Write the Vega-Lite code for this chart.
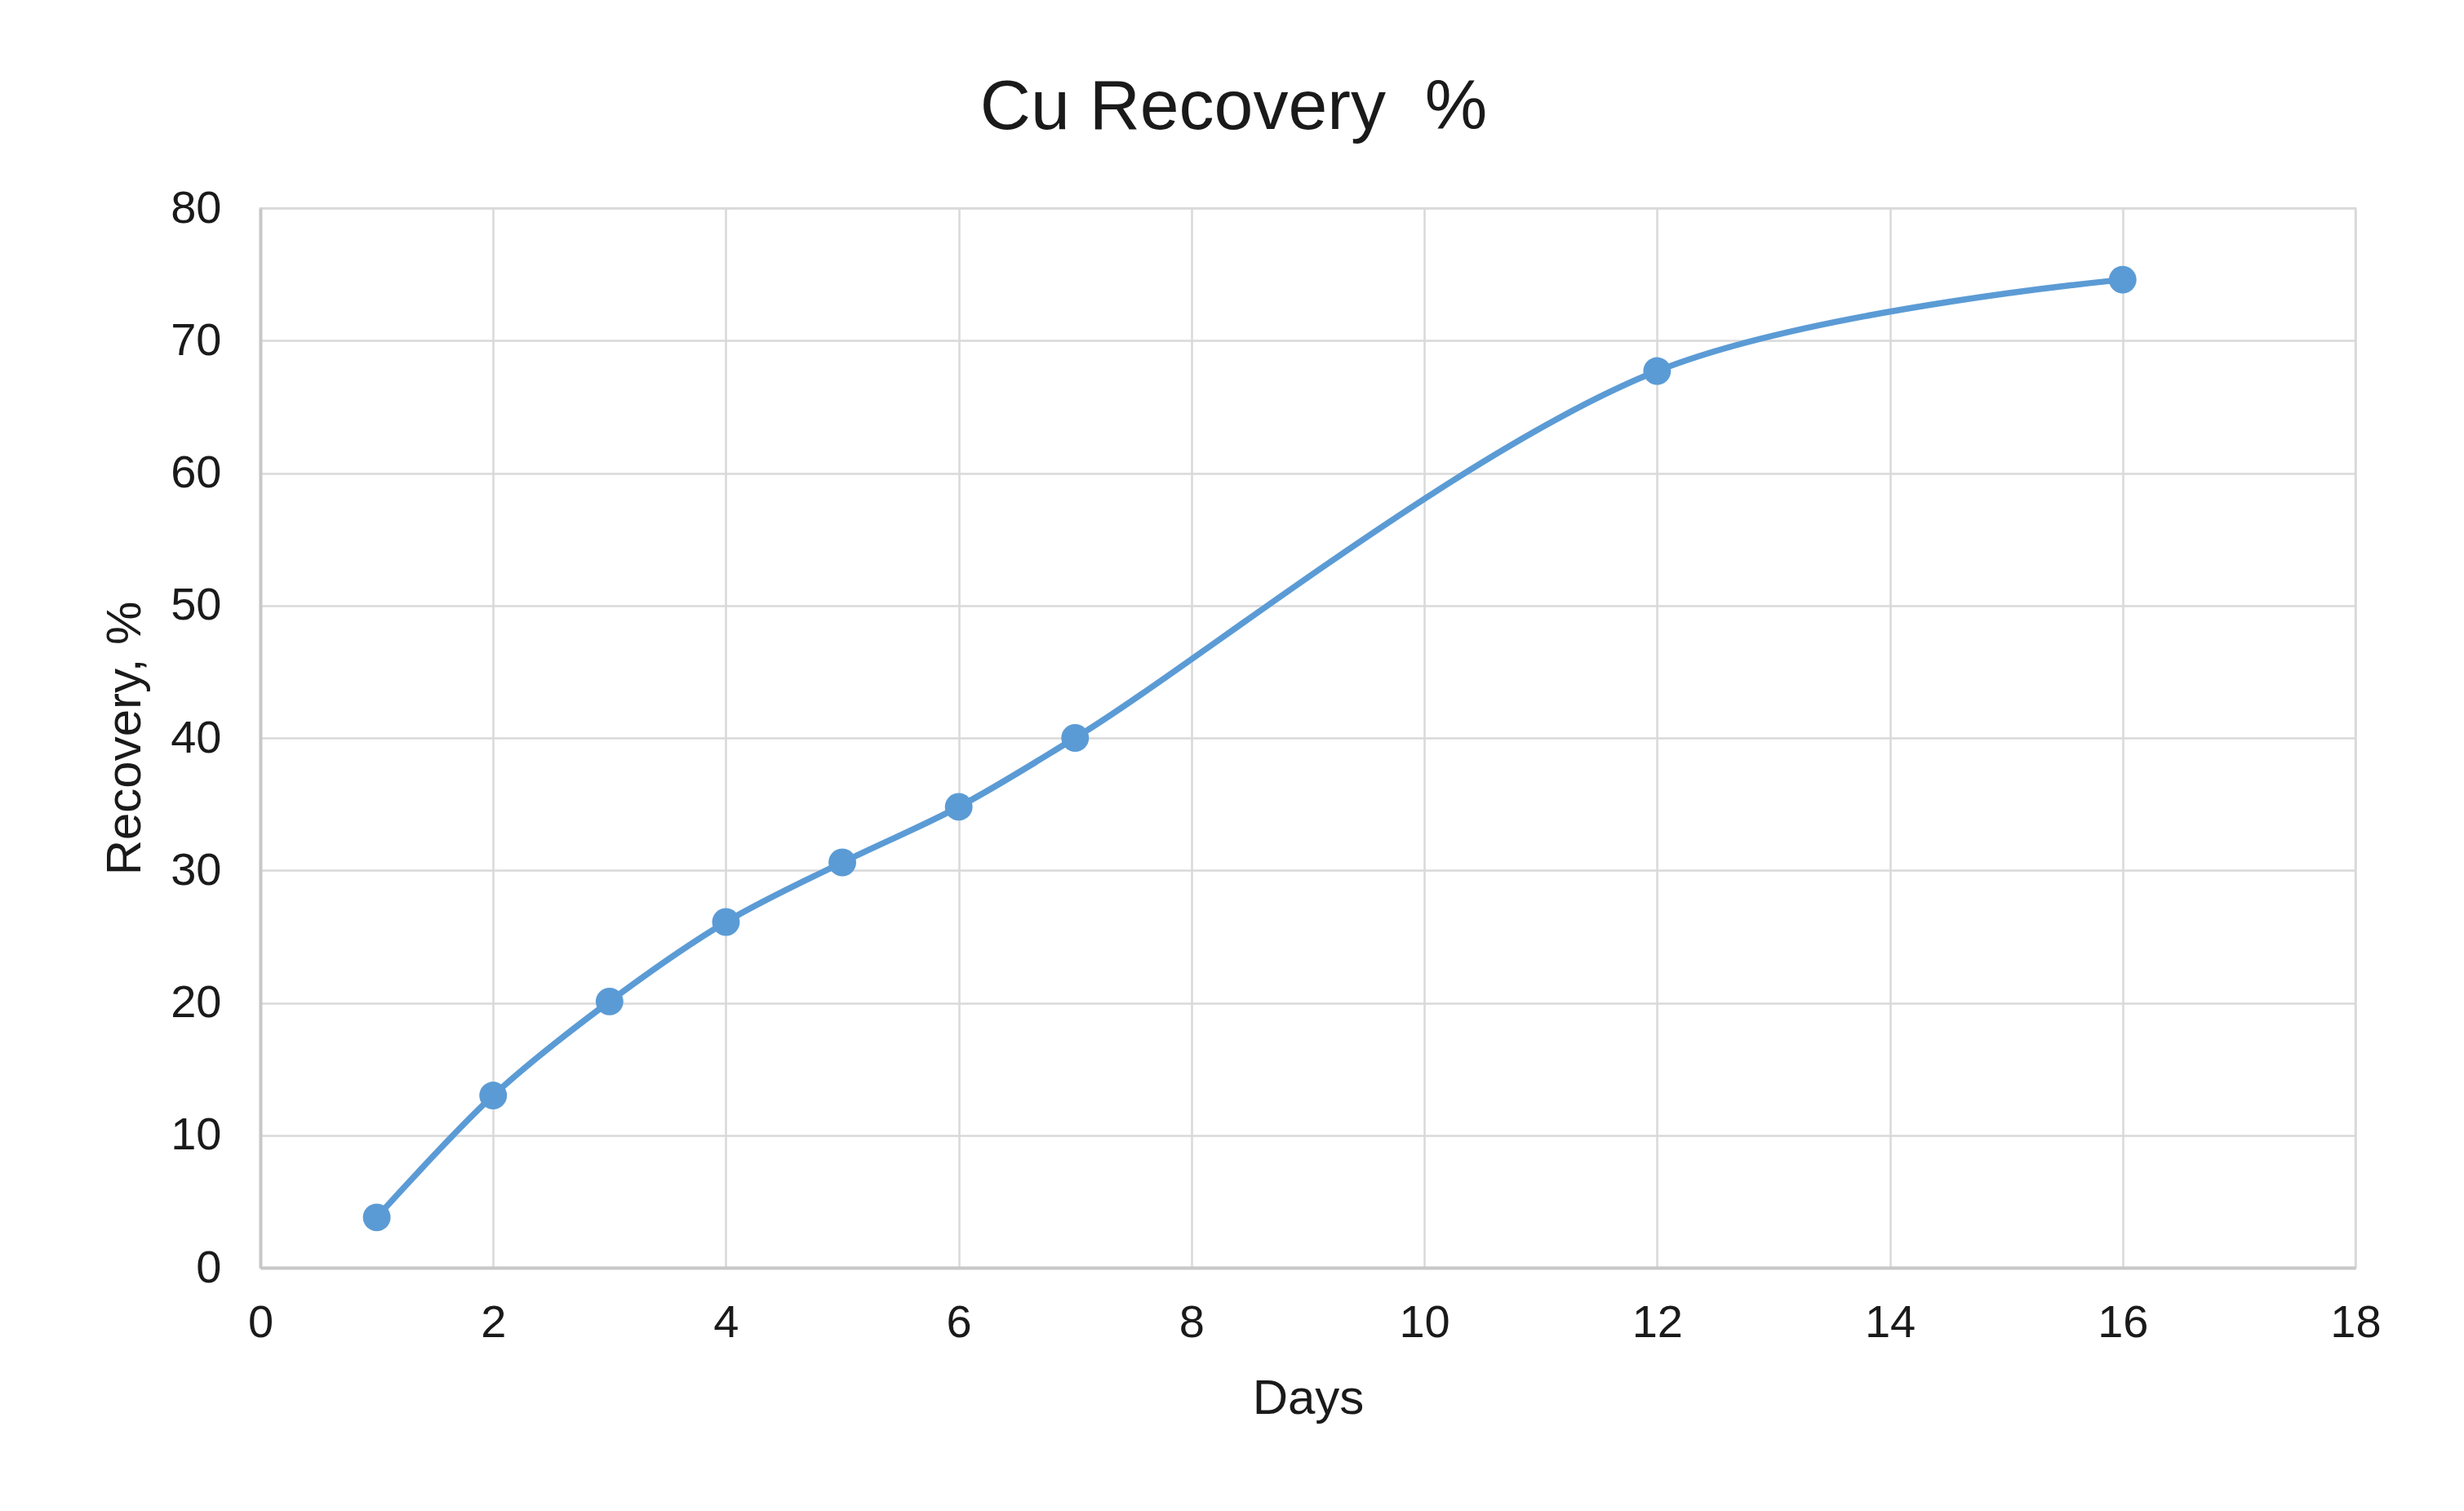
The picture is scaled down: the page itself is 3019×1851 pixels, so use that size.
{
  "$schema": "https://vega.github.io/schema/vega-lite/v6.json",
  "autosize": {"type": "none"},
  "width": 2567,
  "height": 1298,
  "padding": {"left": 319, "top": 255, "right": 133, "bottom": 298},
  "background": "white",
  "title": {
    "text": "Cu Recovery\u00a0 %",
    "fontSize": 86,
    "font": "Liberation Sans",
    "fontWeight": "normal",
    "color": "#1a1a1a",
    "anchor": "middle",
    "frame": "group",
    "dx": -91,
    "dy": 77,
    "baseline": "alphabetic",
    "offset": 60
  },
  "data": {
    "values": [
      {"Days": 1, "Recovery": 3.8},
      {"Days": 2, "Recovery": 13.0},
      {"Days": 3, "Recovery": 20.1},
      {"Days": 4, "Recovery": 26.1},
      {"Days": 5, "Recovery": 30.6},
      {"Days": 6, "Recovery": 34.8},
      {"Days": 7, "Recovery": 40.0},
      {"Days": 12, "Recovery": 67.7},
      {"Days": 16, "Recovery": 74.6}
    ]
  },
  "encoding": {
    "x": {
      "field": "Days",
      "type": "quantitative",
      "scale": {"domain": [0, 18], "nice": false, "zero": false},
      "axis": {
        "title": "Days",
        "values": [0, 2, 4, 6, 8, 10, 12, 14, 16, 18],
        "ticks": false,
        "labelPadding": 40,
        "titlePadding": 36,
        "labelFontSize": 56,
        "titleFontSize": 60,
        "labelFont": "Liberation Sans",
        "titleFont": "Liberation Sans",
        "titleFontWeight": "normal",
        "labelColor": "#1a1a1a",
        "titleColor": "#1a1a1a",
        "domainColor": "#c8c8c8",
        "domainWidth": 4,
        "gridColor": "#d9d9d9",
        "gridWidth": 2.5,
        "labelFlush": false
      }
    },
    "y": {
      "field": "Recovery",
      "type": "quantitative",
      "scale": {"domain": [0, 80], "nice": false},
      "axis": {
        "title": "Recovery, %",
        "values": [0, 10, 20, 30, 40, 50, 60, 70, 80],
        "ticks": false,
        "labelPadding": 48,
        "titlePadding": 24,
        "labelFontSize": 56,
        "titleFontSize": 60,
        "labelFont": "Liberation Sans",
        "titleFont": "Liberation Sans",
        "titleFontWeight": "normal",
        "labelColor": "#1a1a1a",
        "titleColor": "#1a1a1a",
        "domainColor": "#c8c8c8",
        "domainWidth": 4,
        "gridColor": "#d9d9d9",
        "gridWidth": 2.5,
        "labelFlush": false
      }
    }
  },
  "layer": [
    {
      "mark": {"type": "line", "interpolate": "catmull-rom", "color": "#5b9bd5", "strokeWidth": 7.5}
    },
    {
      "mark": {"type": "point", "filled": true, "color": "#5b9bd5", "opacity": 1, "size": 1150, "shape": "circle"}
    }
  ],
  "config": {
    "view": {"stroke": "#d9d9d9", "strokeWidth": 2.5}
  }
}
